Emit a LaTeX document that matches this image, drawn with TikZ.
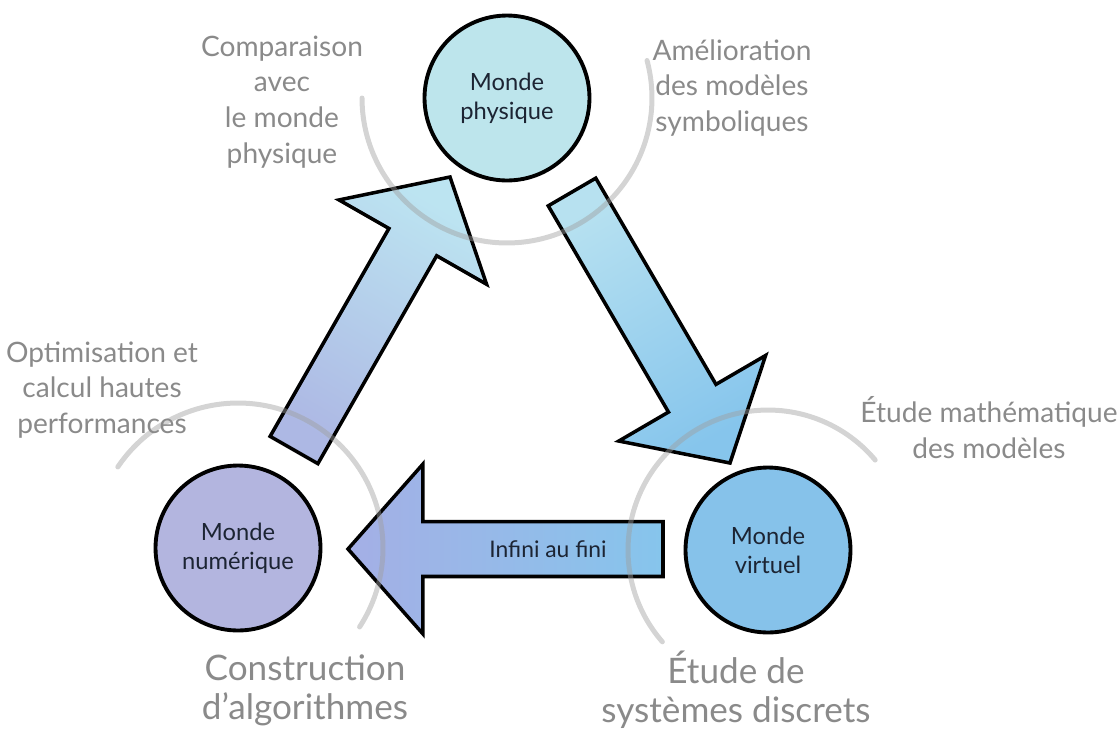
\documentclass[tikz,border=0pt]{standalone}
\usepackage{fontspec}
\setmainfont{Lato}
\usetikzlibrary{calc}

\definecolor{physfill}{HTML}{BDE5EC}
\definecolor{numfill}{HTML}{B3B5DF}
\definecolor{virtfill}{HTML}{86C2EA}
\definecolor{lavarrow}{HTML}{ADB8E4}
\definecolor{cyanarrow}{HTML}{BCE4F1}
\definecolor{bluearrow}{HTML}{86C5EC}
\definecolor{labelgray}{HTML}{8A8A8A}
\definecolor{inkdark}{HTML}{1C2433}

% block arrow from tail #1 to tip #2
\newcommand{\blockarrow}[3]{%
  \coordinate (#1-h) at ($(#2)!1.5cm!(#1)$);
  \draw[fatarrow, #3]
    ($(#1)!0.55cm!90:(#2)$) -- ($(#1-h)!0.55cm!90:(#2)$) --
    ($(#1-h)!1.7cm!90:(#2)$) -- (#2) -- ($(#1-h)!1.7cm!-90:(#2)$) --
    ($(#1-h)!0.55cm!-90:(#2)$) -- ($(#1)!0.55cm!-90:(#2)$) -- cycle;
}

\begin{document}
\begin{tikzpicture}[
        x=0.02cm, y=-0.02cm,
        world/.style={circle, draw, line width=2.2pt, minimum size=3.3cm, inner sep=0pt, align=center, text=inkdark, font=\fontsize{13.5}{16.5}\selectfont},
        fatarrow/.style={draw, line width=2pt, line join=miter, shading=axis},
        arcstroke/.style={draw=gray!75, line width=0.1cm, opacity=0.45, line cap=round},
        side/.style={align=center, text=labelgray, font=\fontsize{16}{20.4}\selectfont},
        bigside/.style={align=center, text=labelgray, font=\fontsize{20}{22}\selectfont}
    ]
        \useasboundingbox (0,0) rectangle (1120,728);

        % Worlds
        \node[world, fill=physfill] (phys) at (507,98) {Monde\\physique};
        \node[world, fill=numfill] (num) at (238,548) {Monde\\numérique};
        \node[world, fill=virtfill] (virt) at (768,550) {Monde\\virtuel};

        % Arrow ends
        \coordinate (numtail) at (294,450);
        \coordinate (phystip) at (450,177);
        \coordinate (phystail) at (572,192);
        \coordinate (virttip) at (730,463);
        \coordinate (virttail) at (663,549);
        \coordinate (numtip) at (348,549);

        % Arrows
        \blockarrow{numtail}{phystip}{bottom color=lavarrow, top color=cyanarrow, shading angle=-30}
        \blockarrow{phystail}{virttip}{bottom color=cyanarrow!90!bluearrow, top color=bluearrow, shading angle=-150}
        \blockarrow{virttail}{numtip}{bottom color=bluearrow, top color=lavarrow!95!blue, shading angle=90}
        \node[font=\fontsize{13}{16}\selectfont, text=inkdark] (finite) at (548,549) {Infini au fini};

        % Grey strokes
        \draw[arcstroke] (phys.center) ++(180:2.9cm) arc[start angle=180, end angle=375, radius=2.9cm];
        \draw[arcstroke] (num.center) ++(146:2.9cm) arc[start angle=146, end angle=-33, radius=2.9cm];
        \draw[arcstroke] (virt.center) ++(221:2.8cm) arc[start angle=221, end angle=40, radius=2.8cm];

        % Labels
        \node[side] (compar) at (282,102) {Comparaison\\avec\\le monde\\physique};
        \node[side] (amelior) at (732,88) {Amélioration\\des modèles\\symboliques};
        \node[side] (optim) at (102,390) {Optimisation et\\calcul hautes\\performances};
        \node[side] (etudemath) at (989,428) {Étude mathématique\\des modèles};
        \node[bigside] (constr) at (305,690) {Construction\\d’algorithmes};
        \node[bigside] (discret) at (736,690) {Étude de\\systèmes discrets};

    \end{tikzpicture}
\end{document}
